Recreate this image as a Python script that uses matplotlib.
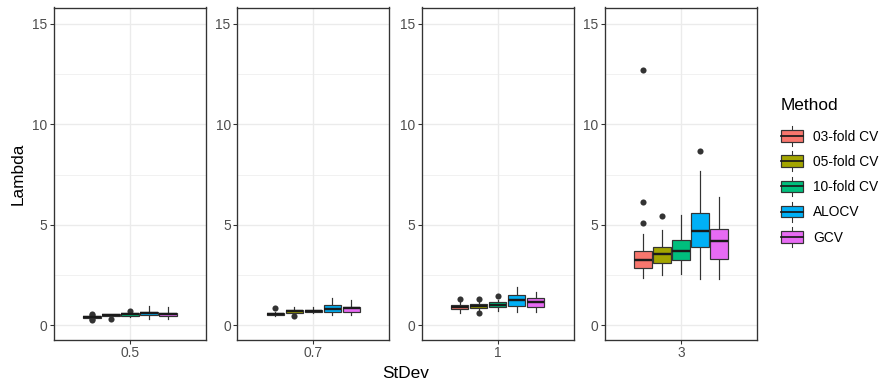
import matplotlib
matplotlib.use("Agg")
import matplotlib.pyplot as plt
from matplotlib.patches import Patch, Rectangle
from matplotlib.lines import Line2D
from matplotlib.legend_handler import HandlerBase

plt.rcParams["font.family"] = ["Liberation Sans", "DejaVu Sans"]

stdevs = ["0.5", "0.7", "1", "3"]
methods = ["03-fold CV", "05-fold CV", "10-fold CV", "ALOCV", "GCV"]
colors = ["#F8766D", "#A3A500", "#00BF7D", "#00B0F6", "#E76BF3"]

# box stats, one row per StDev, one column per method
whislo = [
    [0.33, 0.44, 0.42, 0.28, 0.31],
    [0.46, 0.55, 0.58, 0.50, 0.50],
    [0.61, 0.72, 0.70, 0.66, 0.66],
    [2.33, 2.48, 2.56, 2.31, 2.31],
]
q1 = [
    [0.37, 0.47, 0.47, 0.48, 0.45],
    [0.52, 0.62, 0.63, 0.63, 0.66],
    [0.78, 0.83, 0.88, 0.96, 0.91],
    [2.84, 3.07, 3.22, 3.88, 3.28],
]
med = [
    [0.40, 0.50, 0.53, 0.60, 0.53],
    [0.57, 0.68, 0.68, 0.78, 0.83],
    [0.88, 0.93, 1.00, 1.25, 1.13],
    [3.25, 3.55, 3.71, 4.67, 4.17],
]
q3 = [
    [0.44, 0.53, 0.58, 0.64, 0.62],
    [0.62, 0.75, 0.76, 1.00, 0.91],
    [1.00, 1.05, 1.15, 1.50, 1.33],
    [3.68, 3.91, 4.24, 5.56, 4.77],
]
whishi = [
    [0.47, 0.57, 0.62, 0.95, 0.91],
    [0.66, 0.88, 0.92, 1.33, 1.25],
    [1.16, 1.15, 1.27, 1.91, 1.66],
    [4.54, 4.74, 5.49, 7.67, 6.39],
]
fliers = [
    [[0.24, 0.28, 0.52, 0.56], [0.28], [0.70], [], []],
    [[0.86], [0.45], [], [], []],
    [[1.28], [1.28, 0.58], [1.45], [], []],
    [[5.06, 6.12, 12.7], [5.45], [], [8.66], []],
]

edge = "#333333"
grid_c = "#EBEBEB"
tick_fs = 10.3
title_fs = 12.9

fig = plt.figure(figsize=(886 / 96, 390 / 96), dpi=96)
W, H = 886.0, 390.0
lefts = [54, 237.3, 421.7, 605]
pw = 152
top, bot = 7.5, 339.5

offsets = [-0.3, -0.15, 0.0, 0.15, 0.3]

for i, sd in enumerate(stdevs):
    ax = fig.add_axes([lefts[i] / W, 1 - bot / H, pw / W, (bot - top) / H])
    stats = []
    for j in range(len(methods)):
        stats.append(dict(whislo=whislo[i][j], q1=q1[i][j], med=med[i][j],
                          q3=q3[i][j], whishi=whishi[i][j], fliers=fliers[i][j]))
    pos = [1 + o for o in offsets]
    bp = ax.bxp(stats, positions=pos, widths=0.135, patch_artist=True,
                showcaps=False, manage_ticks=False,
                boxprops=dict(edgecolor=edge, linewidth=0.9),
                medianprops=dict(color="#1A1A1A", linewidth=1.8, solid_capstyle="butt"),
                whiskerprops=dict(color=edge, linewidth=0.9),
                flierprops=dict(marker="o", markerfacecolor=edge,
                                markeredgecolor="none", markersize=4.6))
    for patch, c in zip(bp["boxes"], colors):
        patch.set_facecolor(c)
        patch.set_zorder(3)
    for m in bp["medians"]:
        m.set_zorder(4)

    ax.set_xlim(0.4, 1.6)
    ax.set_ylim(-0.72, 15.82)
    ax.set_xticks([1])
    ax.set_xticklabels([sd])
    ax.set_yticks([0, 5, 10, 15])
    ax.set_yticks([2.5, 7.5, 12.5], minor=True)
    ax.grid(True, which="major", color=grid_c, linewidth=1.0, zorder=0)
    ax.grid(True, which="minor", axis="y", color=grid_c, linewidth=0.5, zorder=0)
    ax.set_axisbelow(True)
    ax.tick_params(which="major", length=2.75, width=0.8, color=edge,
                   labelsize=tick_fs, labelcolor="#4D4D4D", pad=2.2)
    ax.tick_params(which="minor", length=0)
    for s in ax.spines.values():
        s.set_color(edge)
        s.set_linewidth(1.0)


class BoxHandler(HandlerBase):
    def create_artists(self, legend, orig_handle, xdescent, ydescent,
                       width, height, fontsize, trans):
        x0, y0 = -xdescent, -ydescent
        fc = orig_handle.get_facecolor()
        wl = Line2D([x0 + width / 2] * 2, [y0 - height * 0.3, y0 + height * 1.3],
                    color=edge, lw=0.8, transform=trans)
        r = Rectangle((x0, y0 + height * 0.03), width, height * 0.94,
                      facecolor=fc, edgecolor=edge, lw=0.9, transform=trans)
        ml = Line2D([x0, x0 + width], [y0 + height / 2] * 2,
                    color="#1A1A1A", lw=1.3, transform=trans)
        return [wl, r, ml]


handles = [Patch(facecolor=c, label=m) for c, m in zip(colors, methods)]
leg = fig.legend(handles=handles, handler_map={Patch: BoxHandler()},
                 loc="upper left", bbox_to_anchor=(781 / W, 1 - 98 / H),
                 frameon=False, fontsize=tick_fs, title="Method",
                 title_fontsize=title_fs, alignment="left",
                 handlelength=1.6, handleheight=1.0, labelspacing=0.82,
                 handletextpad=0.75, borderpad=0, borderaxespad=0)
# a bit more room between the title and the first key
leg._legend_box.sep += 4.0

fig.text((54 + 757) / 2 / W, 1 - 374 / H, "StDev", ha="center", va="center",
         fontsize=title_fs)
fig.text(18 / W, 1 - 173.5 / H, "Lambda", ha="center", va="center",
         rotation=90, fontsize=title_fs)

fig.savefig("out.png", dpi=96)
